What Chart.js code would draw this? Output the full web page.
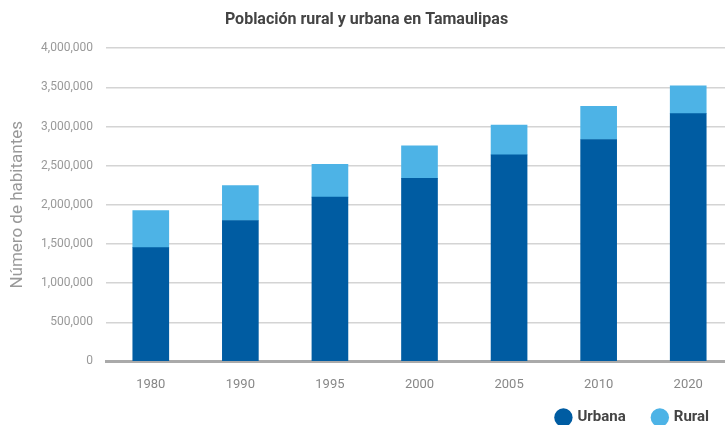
<!DOCTYPE html>
<html>
<head>
<meta charset="utf-8">
<script src="https://cdn.jsdelivr.net/npm/chart.js@4/dist/chart.umd.min.js"></script>
<style>
  html, body { margin: 0; padding: 0; background: #fff; overflow: hidden; }
  #wrap { width: 733px; height: 425px; }
</style>
</head>
<body>
<div id="wrap"><canvas id="chart" width="733" height="425"></canvas></div>
<script>
// --- Données ---
const years = ['1980', '1990', '1995', '2000', '2005', '2010', '2020'];
const urbana = [1453000, 1800000, 2097000, 2337000, 2637000, 2834000, 3164000];
const rural = [472000, 447000, 420000, 415000, 382000, 424000, 356000];
const yTicks = [0, 500000, 1000000, 1500000, 2000000, 2500000, 3000000, 3500000, 4000000];

const FONT = 'Roboto, "Liberation Sans", sans-serif';

new Chart(document.getElementById('chart'), {
    type: 'bar',
    data: {
        labels: years,
        datasets: [
            { label: 'Urbana', data: urbana, backgroundColor: '#005ca2', barThickness: 36 },
            { label: 'Rural', data: rural, backgroundColor: '#4db3e6', barThickness: 36 }
        ]
    },
    options: {
        responsive: false,
        animation: false,
        layout: { padding: { left: 0, right: 0, top: 0, bottom: -10 } },
        plugins: {
            title: {
                display: true,
                text: 'Población rural y urbana en Tamaulipas',
                color: '#444',
                font: { family: FONT, size: 16, weight: 'bold' },
                padding: { top: 10, bottom: 19 }
            },
            legend: {
                position: 'bottom',
                align: 'end',
                labels: {
                    usePointStyle: true,
                    pointStyle: 'circle',
                    boxWidth: 13,
                    boxHeight: 13,
                    padding: 9,
                    color: '#444',
                    font: { family: FONT, size: 15, weight: 'bold' },
                    generateLabels: chart => {
                        const items = Chart.defaults.plugins.legend.labels.generateLabels(chart);
                        // espacement entre les entrées, et décalage de la dernière vers la gauche
                        items.forEach((it, i) => { it.text += i < items.length - 1 ? '     ' : '    '; });
                        return items;
                    }
                }
            },
            tooltip: { enabled: false }
        },
        scales: {
            x: {
                stacked: true,
                grid: { display: false },
                border: { color: '#aaa', width: 3 },
                ticks: { color: '#888', font: { family: FONT, size: 13 }, padding: 8 }
            },
            y: {
                stacked: true,
                min: 0,
                max: 4000000,
                afterBuildTicks: scale => { scale.ticks = yTicks.map(v => ({ value: v })); },
                afterFit: scale => { scale.width = 106; },
                border: { display: false },
                grid: {
                    color: ctx => ctx.tick && ctx.tick.value === 0 ? 'rgba(0,0,0,0)' : '#d4d4d4',
                    lineWidth: 1.5,
                    drawTicks: false
                },
                ticks: {
                    color: '#999',
                    font: { family: FONT, size: 12 },
                    padding: 13,
                    callback: v => v.toLocaleString('en-US')
                },
                title: {
                    display: true,
                    text: 'Número de habitantes',
                    color: '#999',
                    font: { family: FONT, size: 17 },
                    padding: { top: 8, bottom: 0 }
                }
            }
        }
    }
});
</script>
</body>
</html>
